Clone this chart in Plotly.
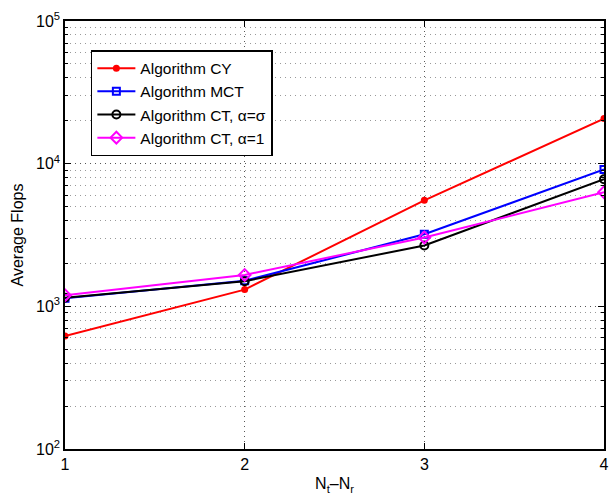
import plotly.graph_objects as go

x_vals = [1, 2, 3, 4]
cy = [619, 1310, 5530, 20700]
mct = [1140, 1510, 3200, 9100]
ct_sigma = [1150, 1500, 2670, 7770]
ct_one = [1195, 1660, 3040, 6300]

y_tickvals = [100, 1000, 10000, 100000]
y_ticktext = ["10<sup>2</sup>", "10<sup>3</sup>", "10<sup>4</sup>", "10<sup>5</sup>"]
y_minor = [a * 10 ** e for e in (2, 3, 4) for a in range(2, 10)]

font_family = "Liberation Sans, Arial, Helvetica, sans-serif"

fig = go.Figure()
fig.add_trace(go.Scatter(x=x_vals, y=cy, mode="lines+markers", name="Algorithm CY",
                         line=dict(color="#ff0000", width=2),
                         marker=dict(symbol="circle", size=7, color="#ff0000")))
fig.add_trace(go.Scatter(x=x_vals, y=mct, mode="lines+markers", name="Algorithm MCT",
                         line=dict(color="#0000ff", width=2),
                         marker=dict(symbol="square-open", size=7, color="#0000ff", line=dict(width=2))))
fig.add_trace(go.Scatter(x=x_vals, y=ct_sigma, mode="lines+markers", name="Algorithm CT, α=σ",
                         line=dict(color="#000000", width=2),
                         marker=dict(symbol="circle-open", size=8, color="#000000", line=dict(width=2))))
fig.add_trace(go.Scatter(x=x_vals, y=ct_one, mode="lines+markers", name="Algorithm CT, α=1",
                         line=dict(color="#ff00ff", width=2),
                         marker=dict(symbol="diamond-open", size=9, color="#ff00ff", line=dict(width=2))))

fig.update_layout(
    width=616, height=499,
    margin=dict(l=65, r=7, t=21, b=50),
    paper_bgcolor="white", plot_bgcolor="white",
    font=dict(family=font_family, size=16, color="black"),
    showlegend=True,
    legend=dict(x=0.048, y=0.932, xanchor="left", yanchor="top",
                bgcolor="white", bordercolor="black", borderwidth=1.5,
                font=dict(size=15.5), tracegroupgap=0, itemwidth=38),
    xaxis=dict(
        range=[1, 4], tickvals=x_vals, ticktext=["1", "2", "3", "4"],
        showgrid=True, gridcolor="#555555", griddash="1px,4px", gridwidth=1,
        showline=True, linecolor="black", linewidth=1.5, mirror="ticks",
        ticks="inside", ticklen=6, tickcolor="black",
        zeroline=False,
        title=dict(text="N<sub>t</sub>–N<sub>r</sub>", standoff=6, font=dict(size=16)),
    ),
    yaxis=dict(
        type="log", range=[2, 5], tickvals=y_tickvals, ticktext=y_ticktext,
        showgrid=True, gridcolor="#555555", griddash="1px,4px", gridwidth=1,
        showline=True, linecolor="black", linewidth=1.5, mirror="ticks",
        ticks="inside", ticklen=6, tickcolor="black",
        minor=dict(showgrid=True, gridcolor="#999999", griddash="1px,4px", gridwidth=1,
                   ticks="inside", ticklen=3, tickcolor="black",
                   tickvals=y_minor),
        zeroline=False,
        title=dict(text="Average Flops", standoff=8, font=dict(size=16)),
    ),
)

fig.write_html("out.html",
               config={"displayModeBar": False},
               post_script="document.body.style.margin='0';document.body.style.overflow='hidden';")
